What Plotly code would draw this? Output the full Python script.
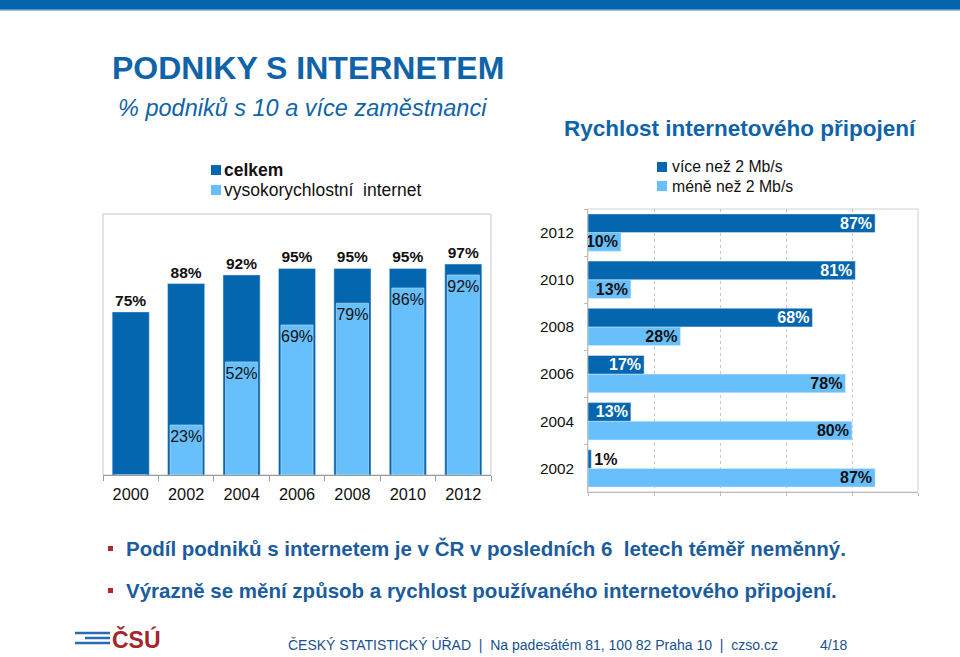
import plotly.graph_objects as go

W, H = 960, 657
def px(x): return x / W
def py(y): return 1 - y / H

# ---------------- data ----------------
years_left = ["2000", "2002", "2004", "2006", "2008", "2010", "2012"]
celkem = [75, 88, 92, 95, 95, 95, 97]
vysokorychlostni = [0, 23, 52, 69, 79, 86, 92]

years_right = ["2002", "2004", "2006", "2008", "2010", "2012"]
vice_nez_2 = [1, 13, 17, 68, 81, 87]
mene_nez_2 = [87, 80, 78, 28, 13, 10]

DARK = "#0466AE"
LIGHT = "#67BFFB"
TITLE_BLUE = "#0F63A8"
FONT = "Liberation Sans, Arial, sans-serif"
NARROW = "Liberation Sans Narrow, Arial Narrow, Liberation Sans, Arial, sans-serif"

fig = go.Figure()

# ---------- left chart ----------
fig.add_trace(go.Bar(
    x=years_left, y=celkem, name="celkem", marker_color=DARK, width=0.67,
    text=[f"{v}%" for v in celkem], textposition="outside", textangle=0,
    cliponaxis=False, constraintext="none",
    textfont=dict(family=FONT, size=15.5, color="#111111", weight="bold"),
    xaxis="x", yaxis="y", showlegend=False))
fig.add_trace(go.Bar(
    x=years_left, y=vysokorychlostni, name="vysokorychlostní internet",
    marker_color=LIGHT, width=0.58,
    text=[f"{v}%" if v > 0 else "" for v in vysokorychlostni],
    textposition="inside", insidetextanchor="end", textangle=0,
    constraintext="none",
    textfont=dict(family=FONT, size=16, color="#111111"),
    xaxis="x", yaxis="y", showlegend=False))

# ---------- right chart ----------
fig.add_trace(go.Bar(
    y=years_right, x=mene_nez_2, orientation="h", name="méně než 2 Mb/s",
    marker_color=LIGHT, offset=-0.395, width=0.395,
    text=[f"{v}%" for v in mene_nez_2], textposition="inside",
    insidetextanchor="end", textangle=0, constraintext="none",
    textfont=dict(family=FONT, size=16, color="#111111", weight="bold"),
    xaxis="x2", yaxis="y2", showlegend=False))
fig.add_trace(go.Bar(
    y=years_right, x=vice_nez_2, orientation="h", name="více než 2 Mb/s",
    marker_color=DARK, offset=0.0, width=0.395,
    text=[f"{v}%" for v in vice_nez_2],
    textposition=["outside" if v < 5 else "inside" for v in vice_nez_2],
    insidetextanchor="end", textangle=0, constraintext="none", cliponaxis=False,
    insidetextfont=dict(family=FONT, size=16, color="white", weight="bold"),
    outsidetextfont=dict(family=FONT, size=16, color="#111111", weight="bold"),
    xaxis="x2", yaxis="y2", showlegend=False))

fig.update_layout(
    width=W, height=H, margin=dict(l=0, r=0, t=0, b=0),
    paper_bgcolor="white", plot_bgcolor="white",
    font=dict(family=FONT, color="#111111"),
    barmode="overlay",
    xaxis=dict(domain=[px(103), px(491)], type="category",
               showline=True, linecolor="#9a9a9a", linewidth=1, mirror=False,
               ticks="outside", tickson="boundaries", ticklen=5, tickcolor="#9a9a9a",
               tickfont=dict(size=16.3, color="#111111"), ticklabelstandoff=4,
               showgrid=False, fixedrange=True),
    yaxis=dict(domain=[py(475), py(214)], range=[0, 120], showticklabels=False,
               showgrid=False, zeroline=False, showline=False, fixedrange=True),
    xaxis2=dict(domain=[px(588), px(918)], range=[0, 100], anchor="y2",
                showticklabels=False, showgrid=True, gridcolor="#c8c8c8",
                griddash="dot", dtick=20, ticks="outside", ticklen=3,
                tickcolor="#bdbdbd", showline=True, linecolor="#bdbdbd",
                zeroline=False, fixedrange=True),
    yaxis2=dict(domain=[py(492), py(209)], type="category", anchor="x2",
                showline=True, linecolor="#bdbdbd", ticks="outside",
                tickson="boundaries", ticklen=3, tickcolor="#bdbdbd",
                tickfont=dict(size=15.3, color="#111111"), ticklabelstandoff=10,
                showgrid=False, fixedrange=True),
)

shapes = []
# top band
shapes.append(dict(type="rect", xref="paper", yref="paper", x0=0, x1=1,
                   y0=py(9), y1=1, fillcolor="#0565AC", line_width=0, layer="above"))
shapes.append(dict(type="rect", xref="paper", yref="paper", x0=0, x1=1,
                   y0=py(10.5), y1=py(9), fillcolor="#4A93C6", line_width=0))
# left plot box
shapes.append(dict(type="rect", xref="paper", yref="paper", x0=px(103), x1=px(491),
                   y0=py(475), y1=py(214), line=dict(color="#c8c8c8", width=1),
                   fillcolor="rgba(0,0,0,0)", layer="below"))
# right plot box
shapes.append(dict(type="rect", xref="paper", yref="paper", x0=px(588), x1=px(918),
                   y0=py(492), y1=py(209), line=dict(color="#d0d0d0", width=1),
                   fillcolor="rgba(0,0,0,0)", layer="below"))
# legend squares
for (x, y, c) in [(216, 170, DARK), (216, 190, LIGHT), (662, 167, DARK), (662, 186, LIGHT)]:
    shapes.append(dict(type="rect", xref="paper", yref="paper",
                       x0=px(x - 5), x1=px(x + 5), y0=py(y + 5), y1=py(y - 5),
                       fillcolor=c, line_width=0))
# bullets
for y in (548, 590):
    shapes.append(dict(type="rect", xref="paper", yref="paper",
                       x0=px(108), x1=px(113), y0=py(y + 3), y1=py(y - 2),
                       fillcolor="#B0272E", line_width=0))
# logo lines
for (x0, y) in [(75, 633), (85, 638), (75, 643)]:
    shapes.append(dict(type="line", xref="paper", yref="paper",
                       x0=px(x0), x1=px(110), y0=py(y), y1=py(y),
                       line=dict(color="#2B6CB0", width=2.5)))
fig.update_layout(shapes=shapes)

ann = []
def text(x, y, s, size, color, bold=False, italic=False, family=FONT, xanchor="left"):
    ann.append(dict(x=px(x), y=py(y), xref="paper", yref="paper", text=s,
                    showarrow=False, xanchor=xanchor, yanchor="middle",
                    font=dict(family=family, size=size, color=color,
                              weight="bold" if bold else "normal",
                              style="italic" if italic else "normal")))

text(110, 68, "PODNIKY S INTERNETEM", 32, TITLE_BLUE, bold=True, family=NARROW)
text(116, 108, "% podniků s 10 a více zaměstnanci", 23.5, TITLE_BLUE, italic=True, family=NARROW)
text(562, 128, "Rychlost internetového připojení", 22.5, TITLE_BLUE, bold=True, family=NARROW)
text(222, 170, "celkem", 17.5, "#111111", bold=True)
text(222, 190, "vysokorychlostní  internet", 17.5, "#111111")
text(670, 167, "více než 2 Mb/s", 15.8, "#111111")
text(670, 186, "méně než 2 Mb/s", 15.8, "#111111")
text(124, 548, "Podíl podniků s internetem je v ČR v posledních 6  letech téměř neměnný.", 20.5,
     "#1A5C9E", bold=True, family=NARROW)
text(124, 590, "Výrazně se mění způsob a rychlost používaného internetového připojení.", 20.5,
     "#1A5C9E", bold=True, family=NARROW)
text(110, 639, "ČSÚ", 23, "#A3262D", bold=True, family=NARROW)
text(286, 645, "ČESKÝ STATISTICKÝ ÚŘAD  |  Na padesátém 81, 100 82 Praha 10  |  czso.cz", 14,
     "#1A4F8F", family=NARROW)
text(818, 645, "4/18", 14, "#1A4F8F", family=NARROW)
fig.update_layout(annotations=ann)

fig.write_html("out.html", config={"displayModeBar": False},
               post_script="document.body.style.margin='0';document.body.style.overflow='hidden';")
